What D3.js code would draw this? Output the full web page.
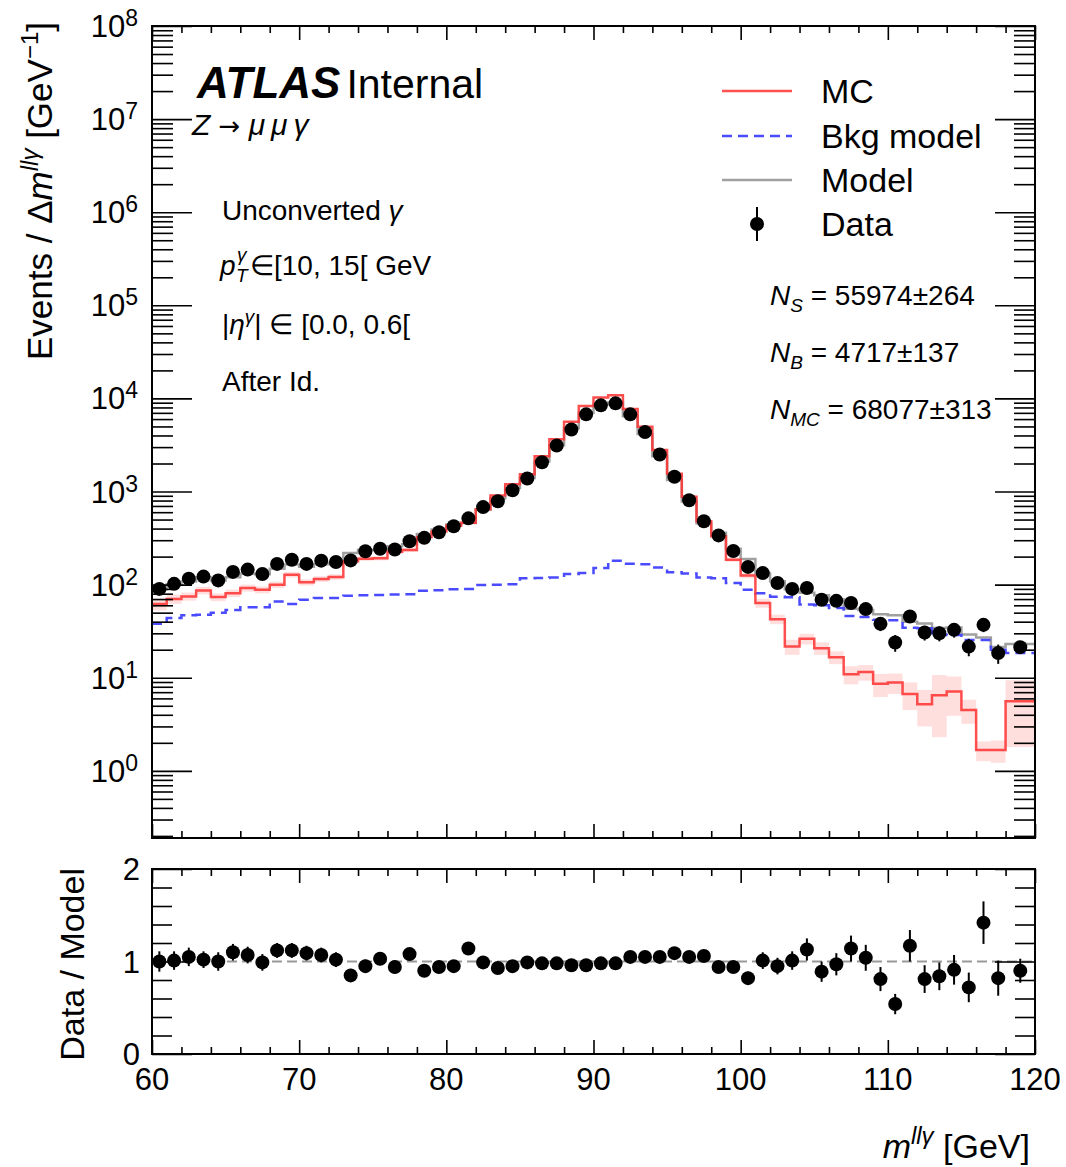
<!DOCTYPE html>
<html>
<head>
<meta charset="utf-8">
<script src="https://cdn.jsdelivr.net/npm/d3@7"></script>
<style>
body { margin: 0; background: #fff; }
svg { font-family: "Liberation Sans", Arial, Helvetica, sans-serif; }
</style>
</head>
<body>
<svg width="1066" height="1167"></svg>
<script>
// bin edges in GeV, the last bin is 2 GeV wide
var binEdges = [60,61,62,63,64,65,66,67,68,69,70,71,72,73,74,75,76,77,78,79,
                80,81,82,83,84,85,86,87,88,89,90,91,92,93,94,95,96,97,98,99,
                100,101,102,103,104,105,106,107,108,109,110,111,112,113,114,115,116,117,118,120];

var dataVals = [90,102,116,122,111,137,145,130,167,185,
                167,181,175,182,228,243,238,292,318,365,
                423,515,680,787,1033,1380,2066,3126,4645,6745,
                8430,8855,6745,4350,2500,1440,806,479,338,230,
                155,133,104,90,92,68.7,67,63.4,54.6,37.9,
                23.9,45.5,30.6,30.1,32.7,21.6,37,18.4,
                21.3];
var dataErr = [9.5,10.1,10.8,11.0,10.5,11.7,12.0,11.4,12.9,13.6,
               12.9,13.5,13.2,13.5,15.1,15.6,15.4,17.1,17.8,19.1,
               20.6,22.7,26.1,28.1,32.1,37.1,45.5,55.9,68.2,82.1,
               91.8,94.1,82.1,66.0,50.0,37.9,28.4,21.9,18.4,15.2,
               12.4,11.5,10.2,9.5,9.6,8.3,8.2,8.0,7.4,6.2,
               4.9,6.7,5.5,5.5,5.7,4.6,6.1,4.3,
               3.3];
var mcVals = [62,70,74.7,86.6,73.5,81,92,88,100,128,
              106,115,121,178,190,192,225,236,325,372,
              430,462,645,905,1200,1530,2400,3650,5600,8300,
              10200,10800,7700,4950,2800,1550,880,480,330,185,
              125,63.4,42.6,21.6,26.2,20.8,16.6,10.9,11.5,8.6,
              8.9,6.7,5.2,6.5,7.1,4.5,1.67,1.67,
              5.6];
var mcErr = [9,8,7.5,8,7,7.5,8,7.5,8,9,
             8,8,8,10,10,10,11,11,12,13,
             14,14,16,18,20,23,28,34,42,50,
             55,57,48,38,29,22,16,12,10,9,
             8,7,5,4,3.5,3.2,2.6,2.4,2.2,2.4,
             2.2,2.2,2.2,4.2,3.2,1.3,0.4,0.45,
             3.8];
var bkgVals = [38,43.7,47,47.5,50,53.5,57,57,66,62,
               69,72,72,76,77,77.5,78.5,79,86,87,
               89,90,99,100,101,117,118,119,130,133,
               151,181,168,166,153,136,132,119,117,104,
               88,81,74,73,61,60,56,46,45,42,
               41.5,34.5,34,29,28.8,25.5,25.5,20,
               18.4];
var modelVals = [89,101,108,119,111,120,132,129,148,165,
                 156,166,171,218,236,236,258,272,350,390,
                 443,460,640,845,1090,1395,2100,3150,4800,7000,
                 8600,9050,6450,4150,2400,1330,780,455,360,243,
                 189,132,109,89,82,77,69.5,55,53.5,48,
                 47,40,38.3,34.3,34.6,29.2,27,21.4,
                 23];
var ratioVals = [1.00,1.01,1.05,1.02,1.00,1.10,1.07,0.99,1.12,1.12,
                 1.09,1.07,1.02,0.85,0.95,1.03,0.94,1.08,0.90,0.94,
                 0.95,1.14,0.99,0.93,0.95,0.99,0.98,0.98,0.96,0.96,
                 0.98,0.98,1.05,1.05,1.05,1.09,1.05,1.06,0.94,0.94,
                 0.82,1.01,0.95,1.01,1.13,0.89,0.97,1.14,1.04,0.81,
                 0.54,1.17,0.81,0.84,0.91,0.72,1.42,0.82,
                 0.90];
var ratioErr = [0.11,0.10,0.10,0.09,0.10,0.09,0.09,0.09,0.08,0.08,
                0.08,0.08,0.08,0.07,0.07,0.07,0.07,0.06,0.06,0.05,
                0.05,0.05,0.04,0.04,0.03,0.03,0.02,0.02,0.02,0.01,
                0.01,0.01,0.01,0.02,0.02,0.03,0.04,0.05,0.05,0.06,
                0.07,0.09,0.09,0.10,0.12,0.11,0.12,0.14,0.14,0.13,
                0.11,0.17,0.15,0.15,0.16,0.16,0.23,0.19,
                0.13];

var yPowers = [0,1,2,3,4,5,6,7,8];
var xTickLabels = [60,70,80,90,100,110,120];
var ratioTickLabels = [0,1,2];
var legendLabels = ["MC", "Bkg model", "Model", "Data"];

var left = 152, right = 1035;
var topY = 26, topBottom = 838;
var ratTop = 869, ratBottom = 1054;

var svg = d3.select("svg");

var x = d3.scaleLinear().domain([60, 120]).range([left, right]);
var y = d3.scaleLog().domain([0.19, 1e8]).range([topBottom, topY]);
var yr = d3.scaleLinear().domain([0, 2]).range([ratBottom, ratTop]);

var bins = binEdges.slice(0, -1).map(function(lo, i){
    return {lo: lo, hi: binEdges[i+1], c: (lo + binEdges[i+1]) / 2, i: i};
});

function stepPoints(vals){
    return binEdges.map(function(e, i){ return [e, vals[Math.min(i, vals.length - 1)]]; });
}
var stepLine = d3.line()
    .x(function(d){ return x(d[0]); })
    .y(function(d){ return y(d[1]); })
    .curve(d3.curveStepAfter);

// ---------- upper panel ----------
var plot = svg.append("g");

// MC uncertainty band
plot.selectAll(".band")
    .data(bins)
    .enter()
    .append("rect")
        .attr("x", function(d){ return x(d.lo); })
        .attr("width", function(d){ return x(d.hi) - x(d.lo); })
        .attr("y", function(d){ return y(mcVals[d.i] + mcErr[d.i]); })
        .attr("height", function(d){
            var lo = Math.max(mcVals[d.i] - mcErr[d.i], 0.19);
            return y(lo) - y(mcVals[d.i] + mcErr[d.i]);
        })
        .attr("fill", "#ff0000")
        .attr("fill-opacity", 0.13);

plot.append("path")
    .attr("d", stepLine(stepPoints(modelVals)))
    .attr("fill", "none").attr("stroke", "#a0a0a0").attr("stroke-width", 2.5);

plot.append("path")
    .attr("d", stepLine(stepPoints(bkgVals)))
    .attr("fill", "none").attr("stroke", "#4a4aff").attr("stroke-width", 2.5)
    .attr("stroke-dasharray", "10,6");

plot.append("path")
    .attr("d", stepLine(stepPoints(mcVals)))
    .attr("fill", "none").attr("stroke", "#ff3030").attr("stroke-opacity", 0.85)
    .attr("stroke-width", 2.5);

plot.selectAll(".ebar")
    .data(bins)
    .enter()
    .append("line")
        .attr("x1", function(d){ return x(d.c); })
        .attr("x2", function(d){ return x(d.c); })
        .attr("y1", function(d){ return y(dataVals[d.i] - dataErr[d.i]); })
        .attr("y2", function(d){ return y(dataVals[d.i] + dataErr[d.i]); })
        .attr("stroke", "#000").attr("stroke-width", 2);

plot.selectAll(".pt")
    .data(bins)
    .enter()
    .append("circle")
        .attr("cx", function(d){ return x(d.c); })
        .attr("cy", function(d){ return y(dataVals[d.i]); })
        .attr("r", 7)
        .attr("fill", "#000");

// ---------- ratio panel ----------
var rat = svg.append("g");

rat.append("line")
    .attr("x1", left).attr("x2", right)
    .attr("y1", yr(1)).attr("y2", yr(1))
    .attr("stroke", "#999").attr("stroke-width", 2)
    .attr("stroke-dasharray", "10,5");

rat.selectAll(".rbar")
    .data(bins)
    .enter()
    .append("line")
        .attr("x1", function(d){ return x(d.c); })
        .attr("x2", function(d){ return x(d.c); })
        .attr("y1", function(d){ return yr(ratioVals[d.i] - ratioErr[d.i]); })
        .attr("y2", function(d){ return yr(ratioVals[d.i] + ratioErr[d.i]); })
        .attr("stroke", "#000").attr("stroke-width", 2);

rat.selectAll(".rpt")
    .data(bins)
    .enter()
    .append("circle")
        .attr("cx", function(d){ return x(d.c); })
        .attr("cy", function(d){ return yr(ratioVals[d.i]); })
        .attr("r", 7)
        .attr("fill", "#000");

// ---------- axes (ticks pointing inwards) ----------
function addAxis(gen, tx, ty){
    svg.append("g")
        .attr("transform", "translate(" + tx + "," + ty + ")")
        .call(gen)
        .call(function(g){
            g.select(".domain").remove();
            g.selectAll("line").attr("stroke", "#000").attr("stroke-width", 1.6);
        });
}

var yAll = y.ticks();
var yMajor = yPowers.map(function(p){ return Math.pow(10, p); });
var yMinor = yAll.filter(function(t){ return yMajor.indexOf(t) < 0; });

addAxis(d3.axisLeft(y).tickValues(yMajor).tickSize(-40).tickFormat(""), left, 0);
addAxis(d3.axisLeft(y).tickValues(yMinor).tickSize(-21).tickFormat(""), left, 0);
addAxis(d3.axisRight(y).tickValues(yMajor).tickSize(-40).tickFormat(""), right, 0);
addAxis(d3.axisRight(y).tickValues(yMinor).tickSize(-21).tickFormat(""), right, 0);

var xMajor = xTickLabels;
var xMinor = d3.range(60, 121, 2).filter(function(t){ return t % 10 !== 0; });
[topY, ratTop].forEach(function(ty){
    addAxis(d3.axisTop(x).tickValues(xMajor).tickSize(-14).tickFormat(""), 0, ty);
    addAxis(d3.axisTop(x).tickValues(xMinor).tickSize(-7).tickFormat(""), 0, ty);
});
[topBottom, ratBottom].forEach(function(ty){
    addAxis(d3.axisBottom(x).tickValues(xMajor).tickSize(-14).tickFormat(""), 0, ty);
    addAxis(d3.axisBottom(x).tickValues(xMinor).tickSize(-7).tickFormat(""), 0, ty);
});

var rMinor = d3.range(0.2, 2, 0.2).filter(function(t){ return Math.abs(t - 1) > 0.01; });
addAxis(d3.axisLeft(yr).tickValues(ratioTickLabels).tickSize(-40).tickFormat(""), left, 0);
addAxis(d3.axisLeft(yr).tickValues(rMinor).tickSize(-20).tickFormat(""), left, 0);
addAxis(d3.axisRight(yr).tickValues(ratioTickLabels).tickSize(-40).tickFormat(""), right, 0);
addAxis(d3.axisRight(yr).tickValues(rMinor).tickSize(-20).tickFormat(""), right, 0);

// frames
svg.append("rect").attr("x", left).attr("y", topY)
    .attr("width", right - left).attr("height", topBottom - topY)
    .attr("fill", "none").attr("stroke", "#000").attr("stroke-width", 2);
svg.append("rect").attr("x", left).attr("y", ratTop)
    .attr("width", right - left).attr("height", ratBottom - ratTop)
    .attr("fill", "none").attr("stroke", "#000").attr("stroke-width", 2);

// ---------- tick labels ----------
yPowers.forEach(function(p){
    var t = svg.append("text")
        .attr("x", 138).attr("y", y(Math.pow(10, p)) + 11)
        .attr("text-anchor", "end")
        .attr("font-size", 31);
    t.append("tspan").text("10");
    t.append("tspan").attr("dy", -11).attr("font-size", 23).text(p);
});

xTickLabels.forEach(function(v){
    svg.append("text")
        .attr("x", x(v)).attr("y", 1090)
        .attr("text-anchor", "middle")
        .attr("font-size", 31)
        .text(v);
});

ratioTickLabels.forEach(function(v){
    svg.append("text")
        .attr("x", 140).attr("y", yr(v) + 11)
        .attr("text-anchor", "end")
        .attr("font-size", 31)
        .text(v);
});

// ---------- axis titles ----------
var yt = svg.append("text")
    .attr("transform", "translate(52,22) rotate(-90)")
    .attr("text-anchor", "end")
    .attr("font-size", 35);
yt.append("tspan").text("Events / \u0394");
yt.append("tspan").attr("font-style", "italic").text("m");
yt.append("tspan").attr("font-style", "italic").attr("font-size", 24).attr("dy", -14).text("ll\u03b3");
yt.append("tspan").attr("dy", 14).text(" [GeV");
yt.append("tspan").attr("font-size", 24).attr("dy", -14).text("\u22121");
yt.append("tspan").attr("dy", 14).text("]");

svg.append("text")
    .attr("transform", "translate(84,868) rotate(-90)")
    .attr("text-anchor", "end")
    .attr("font-size", 34)
    .text("Data / Model");

var xt = svg.append("text")
    .attr("x", 1030).attr("y", 1158)
    .attr("text-anchor", "end")
    .attr("font-size", 34);
xt.append("tspan").attr("font-style", "italic").text("m");
xt.append("tspan").attr("font-style", "italic").attr("font-size", 24).attr("dy", -14).text("ll\u03b3");
xt.append("tspan").attr("dy", 14).text(" [GeV]");

// ---------- ATLAS label and selection text ----------
var atl = svg.append("text").attr("x", 197).attr("y", 98);
atl.append("tspan").attr("font-size", 44).attr("font-weight", "bold").attr("font-style", "italic").text("ATLAS");
atl.append("tspan").attr("font-size", 41).attr("dx", 6).text("Internal");

var zl = svg.append("text").attr("x", 192).attr("y", 135).attr("font-size", 30);
zl.append("tspan").attr("font-style", "italic").text("Z");
zl.append("tspan").attr("font-family", "DejaVu Sans").attr("font-size", 26).text(" \u2192 ");
zl.append("tspan").attr("font-style", "italic").text("\u03bc\u2009\u03bc\u2009\u03b3");

var selY = [220, 275, 334, 391];
var uc = svg.append("text").attr("x", 222).attr("y", selY[0]).attr("font-size", 28);
uc.append("tspan").text("Unconverted ");
uc.append("tspan").attr("font-style", "italic").text("\u03b3");

svg.append("text").attr("x", 220).attr("y", selY[1]).attr("font-size", 28)
    .attr("font-style", "italic").text("p");
svg.append("text").attr("x", 237).attr("y", selY[1] - 14).attr("font-size", 19).attr("font-style", "italic").text("\u03b3");
svg.append("text").attr("x", 236).attr("y", selY[1] + 7).attr("font-size", 19).attr("font-style", "italic").text("T");
svg.append("text").attr("x", 250).attr("y", selY[1]).attr("font-size", 28).text("\u2208[10, 15[ GeV");

var et = svg.append("text").attr("x", 222).attr("y", selY[2]).attr("font-size", 28);
et.append("tspan").text("|");
et.append("tspan").attr("font-style", "italic").text("\u03b7");
et.append("tspan").attr("font-style", "italic").attr("font-size", 19).attr("dy", -11).text("\u03b3");
et.append("tspan").attr("dy", 11).text("| \u2208 [0.0, 0.6[");

svg.append("text").attr("x", 222).attr("y", selY[3]).attr("font-size", 28).text("After Id.");

// ---------- legend ----------
var legY = [91, 136, 180, 224];
var leg = svg.append("g");
leg.append("line").attr("x1", 722).attr("x2", 792).attr("y1", legY[0]).attr("y2", legY[0])
    .attr("stroke", "#ff3030").attr("stroke-opacity", 0.85).attr("stroke-width", 2.5);
leg.append("line").attr("x1", 722).attr("x2", 792).attr("y1", legY[1]).attr("y2", legY[1])
    .attr("stroke", "#4a4aff").attr("stroke-width", 2.5).attr("stroke-dasharray", "10,6");
leg.append("line").attr("x1", 722).attr("x2", 792).attr("y1", legY[2]).attr("y2", legY[2])
    .attr("stroke", "#a0a0a0").attr("stroke-width", 2.5);
leg.append("line").attr("x1", 757).attr("x2", 757).attr("y1", legY[3] - 17).attr("y2", legY[3] + 17)
    .attr("stroke", "#000").attr("stroke-width", 2);
leg.append("circle").attr("cx", 757).attr("cy", legY[3]).attr("r", 7).attr("fill", "#000");
legendLabels.forEach(function(l, i){
    leg.append("text").attr("x", 821).attr("y", legY[i] + 12).attr("font-size", 34).text(l);
});

// ---------- yields ----------
var yields = [["S", "55974\u00b1264", 305], ["B", "4717\u00b1137", 362], ["MC", "68077\u00b1313", 419]];
yields.forEach(function(n){
    var t = svg.append("text").attr("x", 770).attr("y", n[2]).attr("font-size", 28);
    t.append("tspan").attr("font-style", "italic").text("N");
    t.append("tspan").attr("font-style", "italic").attr("font-size", 19).attr("dy", 7).text(n[0]);
    t.append("tspan").attr("dy", -7).text(" = " + n[1]);
});
</script>
</body>
</html>
